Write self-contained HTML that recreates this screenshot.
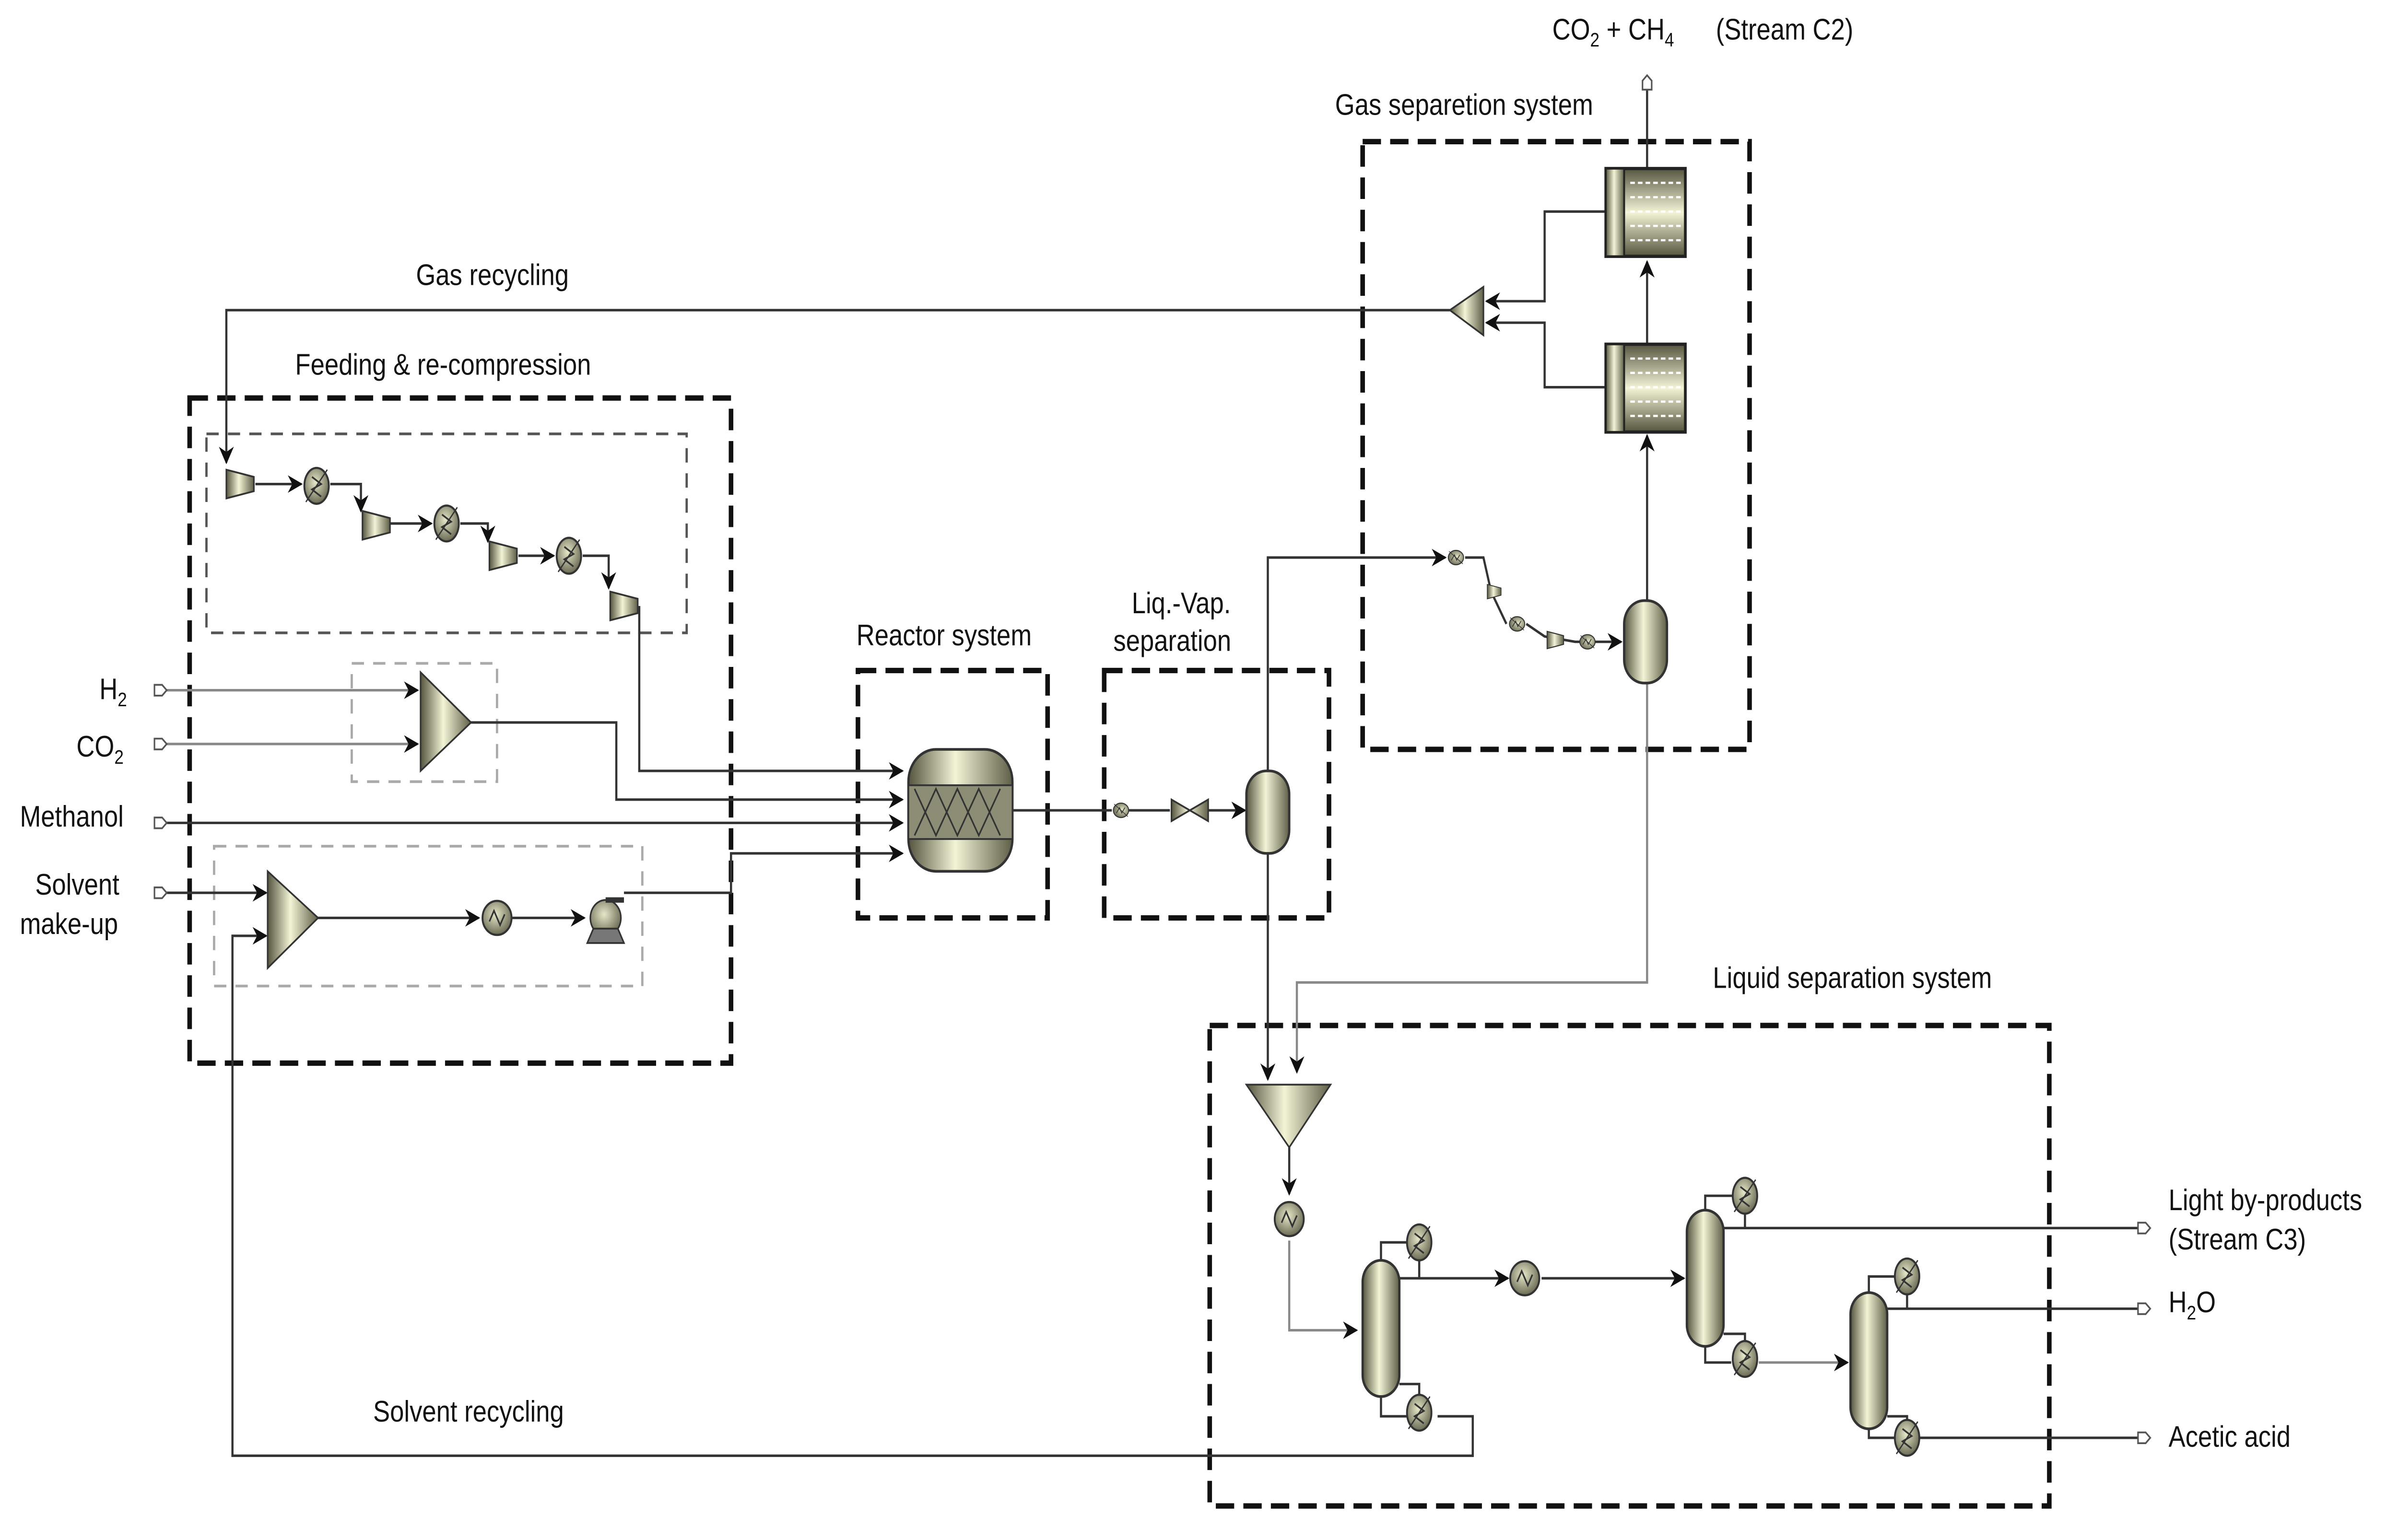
<!DOCTYPE html>
<html><head><meta charset="utf-8"><style>
html,body{margin:0;padding:0;background:#fff;overflow:hidden;width:100%;height:100%}
svg{display:block;width:100vw;height:100vh}
text{font-family:"Liberation Sans",sans-serif;font-size:16.5px;fill:#111}
</style></head><body>
<svg viewBox="0 0 1568 859" preserveAspectRatio="none" xmlns="http://www.w3.org/2000/svg">
<defs>
<linearGradient id="g" x1="0" x2="1" y1="0" y2="0">
<stop offset="0" stop-color="#55553f"/><stop offset="0.45" stop-color="#f3f3d6"/><stop offset="1" stop-color="#5f5f48"/></linearGradient>
<linearGradient id="gv" x1="0" x2="0" y1="0" y2="1">
<stop offset="0" stop-color="#55553f"/><stop offset="0.5" stop-color="#f3f3d6"/><stop offset="1" stop-color="#55553f"/></linearGradient>
<radialGradient id="rg" cx="0.45" cy="0.4" r="0.6"><stop offset="0" stop-color="#e6e6c8"/><stop offset="1" stop-color="#6b6b55"/></radialGradient>
<marker id="a" viewBox="0 0 10 10" refX="9" refY="5" markerWidth="7" markerHeight="7" orient="auto-start-reverse"><path d="M0,0 L10,5 L0,10 L3,5z" fill="#111"/></marker>
<g id="hx"><ellipse cx="0" cy="0" rx="8" ry="10" fill="url(#rg)" stroke="#333" stroke-width="1.2"/><path d="M-3,-5 L3,-1 L-3,2 L3,6" fill="none" stroke="#333" stroke-width="1"/><path d="M-7,9 L7,-9" stroke="#333" stroke-width="0.8"/></g>
<g id="hxc"><circle r="9.5" fill="url(#rg)" stroke="#333" stroke-width="1.2"/><path d="M-5,2 L-2,-4 L2,4 L5,-2" fill="none" stroke="#333" stroke-width="1"/></g>
<g id="comp"><path d="M-9,-8 L-9,8 L9,4 L9,-4 Z" fill="url(#g)" stroke="#333" stroke-width="1"/></g>
<g id="col"><rect x="-12" y="-38" width="24" height="76" rx="12" fill="url(#g)" stroke="#333" stroke-width="1.5"/></g>
<g id="drum"><rect x="-14" y="-23" width="28" height="46" rx="13" fill="url(#g)" stroke="#333" stroke-width="1.5"/></g>
<g id="io"><path d="M0,-3 L5,-3 L8,0 L5,3 L0,3 Z" fill="#fff" stroke="#555" stroke-width="1"/></g>
<g id="mem"><rect x="0" y="0" width="52" height="49" fill="url(#gv)" stroke="#222" stroke-width="1.8"/><rect x="0" y="0" width="12" height="49" fill="url(#g)" stroke="#222" stroke-width="1.2"/>
<path d="M16,8 H50 M16,16 H50 M16,24 H50 M16,32 H50 M16,40 H50" stroke="#fff" stroke-width="1.2" stroke-dasharray="3 2"/></g>
</defs>
<rect width="1568" height="859" fill="#fff"/>

<text x="1015" y="22">CO<tspan font-size="11" dy="4">2</tspan><tspan dy="-4"> + CH</tspan><tspan font-size="11" dy="4">4</tspan></text>
<text x="1122" y="22">(Stream C2)</text>
<text x="873" y="64">Gas separetion system</text>
<text x="272" y="159">Gas recycling</text>
<text x="193" y="209">Feeding &amp; re-compression</text>
<text x="560" y="360">Reactor system</text>
<text x="740" y="342">Liq.-Vap.</text>
<text x="728" y="363">separation</text>
<text x="65" y="390">H<tspan font-size="11" dy="4">2</tspan></text>
<text x="50" y="422">CO<tspan font-size="11" dy="4">2</tspan></text>
<text x="13" y="461">Methanol</text>
<text x="23" y="499">Solvent</text>
<text x="13" y="521">make-up</text>
<text x="1120" y="551">Liquid separation system</text>
<text x="1418" y="675">Light by-products</text>
<text x="1418" y="697">(Stream C3)</text>
<text x="1418" y="732">H<tspan font-size="11" dy="4">2</tspan><tspan dy="-4">O</tspan></text>
<text x="1418" y="807">Acetic acid</text>
<text x="244" y="793">Solvent recycling</text>

<g fill="none" stroke="#111" stroke-width="3" stroke-dasharray="12 6">
<rect x="124" y="222" width="354" height="371"/>
<rect x="561" y="374" width="124" height="138"/>
<rect x="722" y="374" width="147" height="138"/>
<rect x="891" y="79" width="253" height="339"/>
<rect x="791" y="572" width="549" height="268"/>
</g>
<rect x="135" y="242" width="314" height="111" fill="none" stroke="#555" stroke-width="1.5" stroke-dasharray="8 6"/>
<rect x="230" y="370" width="95" height="66" fill="none" stroke="#aaa" stroke-width="1.5" stroke-dasharray="8 6"/>
<rect x="140" y="472" width="280" height="78" fill="none" stroke="#aaa" stroke-width="1.5" stroke-dasharray="8 6"/>

<g fill="none" stroke="#333" stroke-width="1.4">
<path d="M948,173 L148,173 L148,258" marker-end="url(#a)"/>
<path d="M167,270 L197,270" marker-end="url(#a)"/>
<path d="M216,270 L236,270 L236,285" marker-end="url(#a)"/>
<path d="M255,292 L282,292" marker-end="url(#a)"/>
<path d="M301,292 L319,292 L319,302" marker-end="url(#a)"/>
<path d="M339,310 L362,310" marker-end="url(#a)"/>
<path d="M381,310 L398,310 L398,328" marker-end="url(#a)"/>
<path d="M418,338 L418,430 L590,430" marker-end="url(#a)"/>
<path d="M105,385 L273,385" stroke="#888" marker-end="url(#a)"/>
<path d="M105,415 L273,415" stroke="#888" marker-end="url(#a)"/>
<path d="M308,403 L403,403 L403,446 L590,446" marker-end="url(#a)"/>
<path d="M105,459 L590,459" marker-end="url(#a)"/>
<path d="M105,498 L174,498" marker-end="url(#a)"/>
<path d="M208,512 L313,512" marker-end="url(#a)"/>
<path d="M335,512 L382,512" marker-end="url(#a)"/>
<path d="M408,498 L478,498 L478,476 L590,476" marker-end="url(#a)"/>
<path d="M940,790 L963,790 L963,812 L152,812 L152,522 L174,522" marker-end="url(#a)"/>
<path d="M662,452 L727,452"/>
<path d="M738,452 L765,452"/>
<path d="M790,452 L814,452" marker-end="url(#a)"/>
<path d="M829,430 L829,311 L945,311" marker-end="url(#a)"/>
<path d="M958,311 L970,311 L975,330 L985,348"/>
<path d="M998,348 L1010,355 L1030,358 L1060,358" marker-end="url(#a)"/>
<path d="M1077,335 L1077,243" marker-end="url(#a)"/>
<path d="M1077,192 L1077,146" marker-end="url(#a)"/>
<path d="M1077,94 L1077,48"/>
<path d="M1050,118 L1010,118 L1010,168 L972,168" marker-end="url(#a)"/>
<path d="M1050,216 L1010,216 L1010,180 L972,180" marker-end="url(#a)"/>
<path d="M829,476 L829,602" marker-end="url(#a)"/>
<path d="M1077,381 L1077,548 L848,548 L848,598" stroke="#888" marker-end="url(#a)"/>
<path d="M843,640 L843,666" marker-end="url(#a)"/>
<path d="M843,692 L843,742 L887,742" stroke="#888" marker-end="url(#a)"/>
<path d="M915,713 L986,713" marker-end="url(#a)"/>
<path d="M1008,713 L1101,713" marker-end="url(#a)"/>
<path d="M1127,685 L1400,685"/>
<path d="M1150,760 L1208,760" stroke="#888" marker-end="url(#a)"/>
<path d="M1234,730 L1400,730"/>
<path d="M1255,802 L1400,802"/>
<path d="M903,704 L903,693 L920,693 M928,700 L928,713"/>
<path d="M915,772 L928,772 L928,780 M903,778 L903,790 L920,790"/>
<path d="M1115,676 L1115,667 L1133,667 M1141,674 L1141,685"/>
<path d="M1127,744 L1141,744 L1141,750 M1115,750 L1115,760 L1132,760"/>
<path d="M1222,722 L1222,712 L1239,712 M1247,719 L1247,730"/>
<path d="M1234,790 L1247,790 L1247,795 M1222,796 L1222,802 L1239,802"/>
</g>

<use href="#io" x="101" y="385"/><use href="#io" x="101" y="415"/><use href="#io" x="101" y="459"/><use href="#io" x="101" y="498"/>
<use href="#io" x="1398" y="685"/><use href="#io" x="1398" y="730"/><use href="#io" x="1398" y="802"/>
<use href="#io" transform="translate(1077,50) rotate(-90)"/>

<use href="#comp" x="157" y="270"/><use href="#hx" x="207" y="271"/>
<use href="#comp" x="246" y="293"/><use href="#hx" x="292" y="292"/>
<use href="#comp" x="329" y="310"/><use href="#hx" x="372" y="310"/>
<use href="#comp" x="408" y="338"/>
<path d="M275,375 L275,430 L308,403 Z" fill="url(#g)" stroke="#333"/>
<path d="M175,486 L175,540 L208,512 Z" fill="url(#g)" stroke="#333"/>
<use href="#hxc" x="325" y="512"/>
<circle cx="396" cy="512" r="10" fill="url(#rg)" stroke="#333"/><path d="M384,526 L408,526 L404,518 L388,518Z" fill="#777" stroke="#333"/><path d="M396,502 L408,502" stroke="#333" stroke-width="3"/>
<rect x="594" y="418" width="68" height="68" rx="18" fill="url(#g)" stroke="#333" stroke-width="1.5"/>
<rect x="594" y="438" width="68" height="30" fill="#8d8d75" stroke="#333"/>
<path d="M598,440 L612,466 L626,440 L640,466 L654,440 M598,466 L612,440 L626,466 L640,440 L654,466" stroke="#333" fill="none"/>
<use href="#hx" transform="translate(733,452) rotate(90) scale(0.5)"/>
<path d="M766,446 L766,458 L790,446 L790,458 Z" fill="url(#g)" stroke="#333"/>
<use href="#drum" x="829" y="453"/>
<use href="#drum" x="1076" y="358"/>
<use href="#hx" transform="translate(952,311) rotate(90) scale(0.5)"/>
<use href="#comp" transform="translate(977,330) scale(0.5)"/>
<use href="#hx" transform="translate(992,348) rotate(90) scale(0.5)"/>
<use href="#comp" transform="translate(1017,357) scale(0.6)"/>
<use href="#hx" transform="translate(1038,358) rotate(90) scale(0.5)"/>
<use href="#mem" x="1050" y="94"/>
<use href="#mem" x="1050" y="192"/>
<path d="M948,173 L970,160 L970,187 Z" fill="url(#g)" stroke="#333"/>
<path d="M815,605 L870,605 L843,640 Z" fill="url(#g)" stroke="#333"/>
<use href="#hxc" x="843" y="680"/>
<use href="#col" x="903" y="741"/><use href="#hx" x="928" y="693"/><use href="#hx" x="928" y="788"/>
<use href="#hxc" x="997" y="713"/>
<use href="#col" x="1115" y="713"/><use href="#hx" x="1141" y="667"/><use href="#hx" x="1141" y="758"/>
<use href="#col" x="1222" y="759"/><use href="#hx" x="1247" y="712"/><use href="#hx" x="1247" y="802"/>
</svg>
</body></html>
